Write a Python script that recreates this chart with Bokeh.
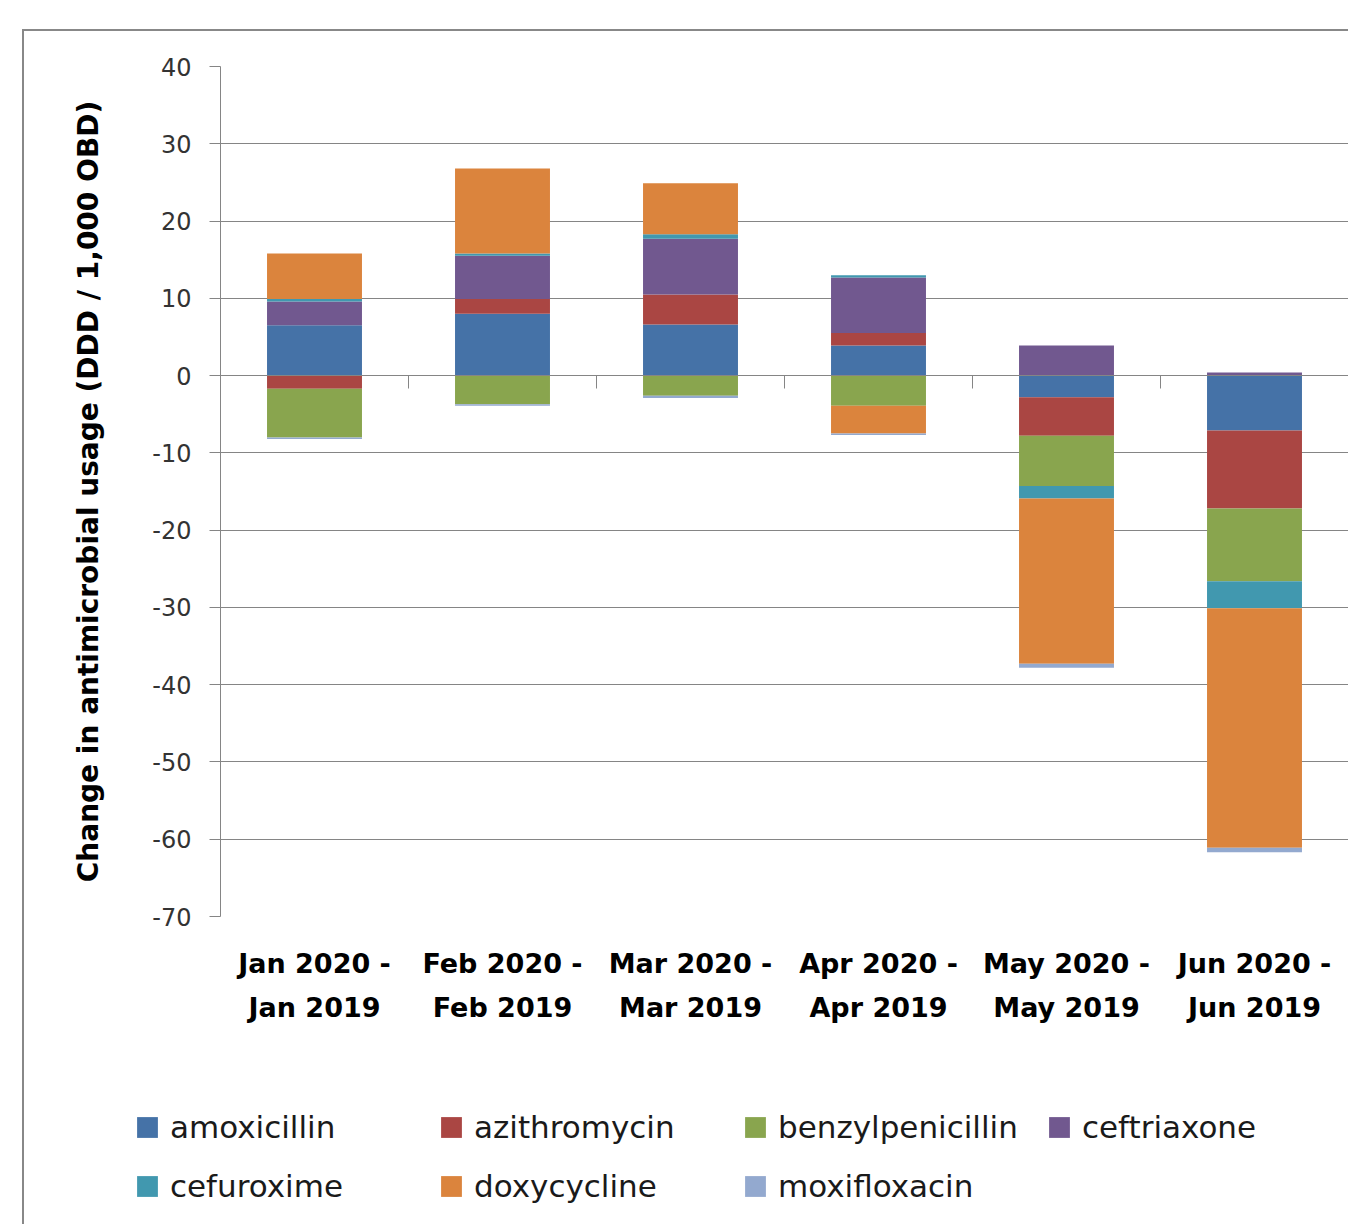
from bokeh.plotting import figure
from bokeh.layouts import column, row
from bokeh.models import (Range1d, FixedTicker, LinearAxis, Legend, LegendItem,
                          ColumnDataSource, Grid)
from bokeh.embed import file_html
from bokeh.resources import INLINE

# ---- data ----
categories = ["Jan 2020 -\nJan 2019", "Feb 2020 -\nFeb 2019", "Mar 2020 -\nMar 2019",
              "Apr 2020 -\nApr 2019", "May 2020 -\nMay 2019", "Jun 2020 -\nJun 2019"]
series_names = ["amoxicillin", "azithromycin", "benzylpenicillin", "ceftriaxone",
                "cefuroxime", "doxycycline", "moxifloxacin"]
amoxicillin = [6.5, 8.0, 6.6, 3.9, -2.8, -7.1]
azithromycin = [-1.7, 1.9, 3.9, 1.6, -5.0, -10.1]
benzylpenicillin = [-6.3, -3.7, -2.6, -3.9, -6.5, -9.4]
ceftriaxone = [3.1, 5.6, 7.2, 7.2, 3.9, 0.4]
cefuroxime = [0.3, 0.3, 0.6, 0.3, -1.6, -3.5]
doxycycline = [5.9, 11.0, 6.6, -3.6, -21.4, -31.0]
moxifloxacin = [-0.2, -0.2, -0.3, -0.2, -0.5, -0.6]
y_ticks = [-70, -60, -50, -40, -30, -20, -10, 0, 10, 20, 30, 40]
y_tick_labels = ["-70", "-60", "-50", "-40", "-30", "-20", "-10", "0", "10", "20", "30", "40"]

series_values = [amoxicillin, azithromycin, benzylpenicillin, ceftriaxone,
                 cefuroxime, doxycycline, moxifloxacin]
colors = ["#4572A7", "#AA4643", "#89A54E", "#71588F", "#4198AF", "#DB843D", "#93A9CF"]

FONT = "DejaVu Sans"
GRID = "#858585"
W = 1324

p = figure(width=W, height=1049, output_backend="svg", toolbar_location=None,
           x_range=Range1d(0, len(categories)), y_range=Range1d(-70, 40),
           min_border_left=196, min_border_right=0, min_border_top=35,
           min_border_bottom=164, x_axis_type=None, y_axis_type=None)
p.outline_line_color = None
p.background_fill_color = "white"
p.border_fill_color = "white"

# y axis
yaxis = LinearAxis(ticker=FixedTicker(ticks=y_ticks))
yaxis.major_label_overrides = {t: s for t, s in zip(y_ticks, y_tick_labels)}
yaxis.axis_line_color = GRID
yaxis.major_tick_line_color = GRID
yaxis.major_tick_out = 11
yaxis.major_tick_in = 0
yaxis.minor_tick_line_color = None
yaxis.major_label_text_font = FONT
yaxis.major_label_text_font_size = "24px"
yaxis.major_label_text_color = "#333333"
yaxis.major_label_standoff = 18
yaxis.axis_label = "Change in antimicrobial usage (DDD / 1,000 OBD)"
yaxis.axis_label_text_font = FONT
yaxis.axis_label_text_font_size = "28px"
yaxis.axis_label_text_font_style = "bold"
yaxis.axis_label_text_color = "black"
yaxis.axis_label_standoff = 44
p.add_layout(yaxis, "left")

p.add_layout(Grid(dimension=1, ticker=yaxis.ticker, grid_line_color=GRID, grid_line_width=1))

# category labels axis at bottom
centers = [i + 0.5 for i in range(len(categories))]
xaxis = LinearAxis(ticker=FixedTicker(ticks=centers))
xaxis.major_label_overrides = {c: lab for c, lab in zip(centers, categories)}
xaxis.axis_line_color = None
xaxis.major_tick_line_color = None
xaxis.minor_tick_line_color = None
xaxis.major_label_text_font = FONT
xaxis.major_label_text_font_size = "27px"
xaxis.major_label_text_font_style = "bold"
xaxis.major_label_text_color = "black"
xaxis.major_label_text_line_height = 1.45
xaxis.major_label_standoff = 25
p.add_layout(xaxis, "below")

# zero-line axis with boundary ticks
zaxis = LinearAxis(ticker=FixedTicker(ticks=list(range(1, len(categories) + 1))),
                   fixed_location=0)
zaxis.axis_line_color = GRID
zaxis.major_tick_line_color = GRID
zaxis.major_tick_out = 13
zaxis.major_tick_in = 0
zaxis.minor_tick_line_color = None
zaxis.major_label_text_font_size = "0px"
zaxis.major_label_text_alpha = 0
p.add_layout(zaxis, "below")

# legend figure (below the chart); its ranges keep the proxy bars out of view
lf = figure(width=W, height=144, output_backend="svg", toolbar_location=None,
            x_axis_type=None, y_axis_type=None, min_border=0,
            x_range=Range1d(100, 101), y_range=Range1d(100, 101))
lf.outline_line_color = None
lf.xgrid.visible = False
lf.ygrid.visible = False
lf.background_fill_color = "white"
lf.border_fill_color = "white"

# stacked bars (positives stack up, negatives stack down)
n = len(categories)
pos_base = [0.0] * n
neg_base = [0.0] * n
items = []
for name, vals, col in zip(series_names, series_values, colors):
    bottoms, tops = [], []
    for i, v in enumerate(vals):
        if v >= 0:
            b = pos_base[i]
            t = b + v
            pos_base[i] = t
        else:
            t = neg_base[i]
            b = t + v
            neg_base[i] = b
        bottoms.append(b)
        tops.append(t)
    src = ColumnDataSource(dict(x=centers, top=tops, bottom=bottoms))
    p.vbar(x="x", top="top", bottom="bottom", width=0.505, source=src,
           fill_color=col, line_color=None)
    lr = lf.vbar(x="x", top="top", bottom="bottom", width=0.505, source=src,
                 fill_color=col, line_color=None)
    items.append(LegendItem(label=name, renderers=[lr]))

legend = Legend(items=items, orientation="horizontal", ncols=4,
                location=(110, 20))
legend.label_text_font = FONT
legend.label_text_font_size = "31px"
legend.label_text_color = "#1a1a1a"
legend.glyph_width = 26
legend.glyph_height = 26
legend.label_standoff = 10
legend.label_width = 245
legend.label_height = 35
legend.spacing = 23
legend.padding = 0
legend.margin = 0
legend.border_line_color = None
legend.background_fill_alpha = 0
lf.add_layout(legend, "center")

layout = column(p, row(lf), spacing=0)
layout.styles = {"margin-left": "22px", "margin-top": "29px",
                 "border-left": "2px solid #888888", "border-top": "2px solid #888888"}

open("out.html", "w").write(file_html(layout, INLINE))
